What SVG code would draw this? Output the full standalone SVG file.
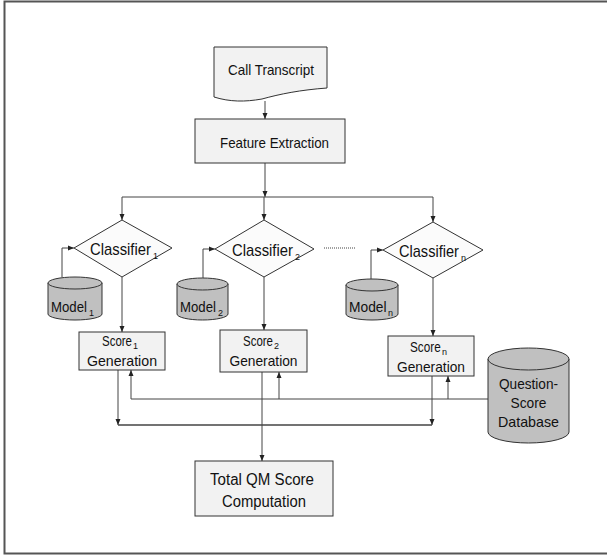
<svg xmlns="http://www.w3.org/2000/svg" width="607" height="556" viewBox="0 0 607 556">
<defs>
<marker id="ah" viewBox="0 0 6 6" refX="6" refY="3" markerWidth="6" markerHeight="6" orient="auto" markerUnits="userSpaceOnUse">
<path d="M0,0.5 L6,3 L0,5.5 Z" fill="#222"/>
</marker>
<style>
.frame{fill:none;stroke:#555;stroke-width:2}
.box{fill:#f2f2f2;stroke:#333;stroke-width:1}
.dia{fill:#fbfbfb;stroke:#333;stroke-width:1}
.cyl{fill:#c0c0c0;stroke:#333;stroke-width:1}
.c{fill:none;stroke:#444;stroke-width:1}
.a{marker-end:url(#ah)}
text{font-family:"Liberation Sans",Arial,sans-serif;fill:#111}
.t{font-size:14px;text-anchor:middle}
.k{font-size:16px}
.m{font-size:15px}
.s{font-size:14px}
.sub{font-size:9px}
</style>
</defs>
<rect class="frame" x="4.5" y="1.5" width="610" height="552"/>

<g id="connectors">
<path class="c a" d="M265,101 V119"/>
<path class="c a" d="M265,163 V197"/>
<path class="c a" d="M265,197 H122 V220"/>
<path class="c a" d="M265,197 H433 V222"/>
<path class="c a" d="M264,197 V220"/>
<path class="c a" d="M62,277 V248 H74"/>
<path class="c a" d="M203,278 V249 H215"/>
<path class="c a" d="M371,279 V250 H383"/>
<path class="c a" d="M122,277 V332"/>
<path class="c a" d="M264,277 V330"/>
<path class="c a" d="M433,278 V336"/>
<path class="c a" d="M118,370 V425"/>
<path class="c a" d="M432,376 V425"/>
<path class="c" d="M118,425 H432" style="stroke-width:1.3"/>
<path class="c a" d="M262,372 V461"/>
<path class="c a" d="M489,399 H131 V370"/>
<path class="c a" d="M279,399 V372"/>
<path class="c a" d="M448,399 V376"/>
<path class="c" d="M324,248 H355" stroke-dasharray="1,1"/>
</g>

<g id="call-transcript">
<path class="box" d="M214,47 H327 V88 C300,90 280,94 262,99 C245,102 230,102 214,97 Z"/>
<text class="t" x="271" y="75" textLength="86" lengthAdjust="spacingAndGlyphs" style="font-size:15px">Call Transcript</text>
</g>

<g id="feature-extraction">
<rect class="box" x="195" y="119" width="150" height="44"/>
<text class="t" x="274.5" y="148" textLength="109" lengthAdjust="spacingAndGlyphs" style="font-size:15px">Feature Extraction</text>
</g>

<g id="classifier-1">
<polygon class="dia" points="122,220 172,248 122,277 74,248"/>
<text class="k" transform="translate(90,255) scale(0.927,1)">Classifier</text>
<text x="153" y="259" class="sub">1</text>
</g>
<g id="classifier-2">
<polygon class="dia" points="264,220 314,249 264,277 215,249"/>
<text class="k" transform="translate(232,256) scale(0.927,1)">Classifier</text>
<text x="295" y="260" class="sub">2</text>
</g>
<g id="classifier-n">
<polygon class="dia" points="433,222 483,250 433,278 383,250"/>
<text class="k" transform="translate(399,257) scale(0.912,1)">Classifier</text>
<text x="461" y="261" class="sub">n</text>
</g>

<g id="model-1">
<path class="cyl" d="M48,283 A27,6 0 0 1 102,283 V314 A27,6 0 0 1 48,314 Z"/>
<path class="cyl" d="M48,283 A27,6 0 0 0 102,283"/>
<text class="m" transform="translate(51,312) scale(0.88,1)">Model</text>
<text x="89" y="316" class="sub">1</text>
</g>
<g id="model-2">
<path class="cyl" d="M177,284 A25.5,6 0 0 1 228,284 V314 A25.5,6 0 0 1 177,314 Z"/>
<path class="cyl" d="M177,284 A25.5,6 0 0 0 228,284"/>
<text class="m" transform="translate(180,312) scale(0.88,1)">Model</text>
<text x="218" y="316" class="sub">2</text>
</g>
<g id="model-n">
<path class="cyl" d="M346,285 A26,6 0 0 1 398,285 V314 A26,6 0 0 1 346,314 Z"/>
<path class="cyl" d="M346,285 A26,6 0 0 0 398,285"/>
<text class="m" transform="translate(349,312) scale(0.92,1)">Model</text>
<text x="388" y="316" class="sub">n</text>
</g>

<g id="score-1">
<rect class="box" x="79" y="332" width="86" height="38"/>
<text class="s" transform="translate(102,346) scale(0.82,1)">Score</text>
<text x="133" y="349" class="sub">1</text>
<text class="t" x="122" y="366" textLength="70" lengthAdjust="spacingAndGlyphs" style="font-size:15px">Generation</text>
</g>
<g id="score-2">
<rect class="box" x="220" y="330" width="87" height="42"/>
<text class="s" transform="translate(243,346) scale(0.82,1)">Score</text>
<text x="274" y="349" class="sub">2</text>
<text class="t" x="263.5" y="366" textLength="68" lengthAdjust="spacingAndGlyphs" style="font-size:15px">Generation</text>
</g>
<g id="score-n">
<rect class="box" x="388" y="336" width="86" height="40"/>
<text class="s" transform="translate(410,352) scale(0.84,1)">Score</text>
<text x="442" y="355" class="sub">n</text>
<text class="t" x="431" y="372" textLength="68" lengthAdjust="spacingAndGlyphs" style="font-size:15px">Generation</text>
</g>

<g id="question-score-database">
<path class="cyl" d="M488,359 A40.5,11 0 0 1 569,359 V432 A40.5,11 0 0 1 488,432 Z"/>
<path class="cyl" d="M488,359 A40.5,11 0 0 0 569,359"/>
<text class="t" x="528.5" y="389" textLength="59" lengthAdjust="spacingAndGlyphs" style="font-size:15px">Question-</text>
<text class="t" x="528.5" y="408" style="font-size:15px" textLength="36" lengthAdjust="spacingAndGlyphs">Score</text>
<text class="t" x="528.5" y="427" textLength="61" lengthAdjust="spacingAndGlyphs" style="font-size:15px">Database</text>
</g>

<g id="total-qm-score">
<rect class="box" x="195" y="461" width="138" height="55"/>
<text class="t" x="262" y="485" textLength="104" lengthAdjust="spacingAndGlyphs" style="font-size:16px">Total QM Score</text>
<text class="t" x="264" y="507" textLength="84" lengthAdjust="spacingAndGlyphs" style="font-size:16px">Computation</text>
</g>
</svg>
